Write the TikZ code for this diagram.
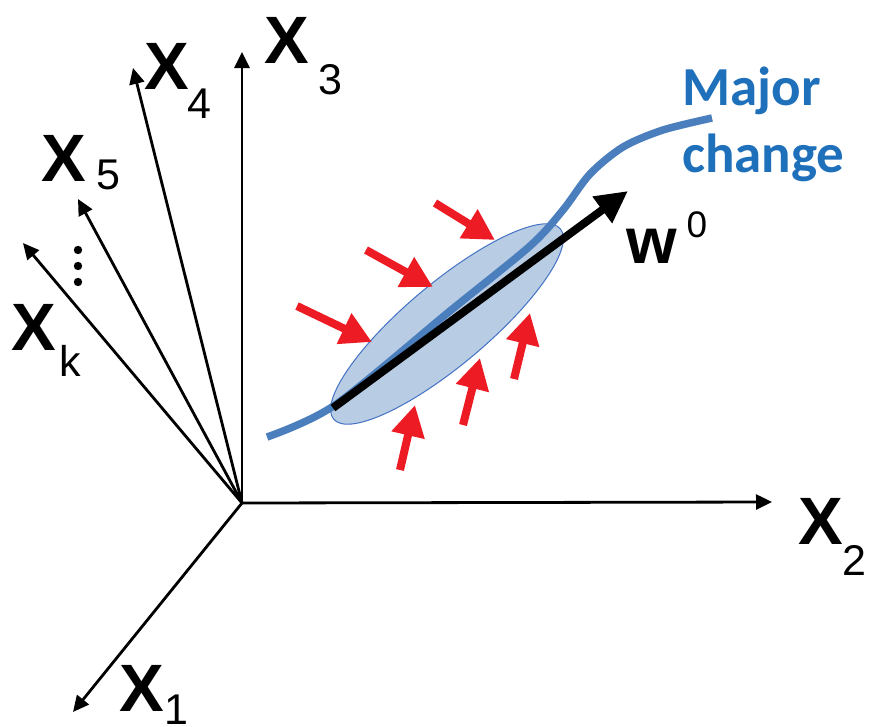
\documentclass[tikz,border=0pt]{standalone}
\usepackage{fontspec}
\setmainfont{Liberation Sans}
\newfontfamily\calib{Carlito}
\usetikzlibrary{arrows.meta,shapes.geometric}
\definecolor{redarr}{RGB}{237,28,36}
\definecolor{curveblue}{RGB}{74,126,188}
\definecolor{textblue}{RGB}{30,112,186}
\definecolor{ellfill}{RGB}{184,204,228}
\definecolor{elldraw}{RGB}{68,114,196}
\begin{document}
\begin{tikzpicture}[x=1pt,y=-1pt,
  axis/.style={line width=2.8pt,-{Triangle[length=16pt,width=15pt]}},
  bigX/.style={inner sep=0pt,font=\fontsize{67}{67}\selectfont\bfseries},
  subidx/.style={inner sep=0pt,font=\fontsize{43}{43}\selectfont},
  push/.style={redarr,line width=8pt,-{Triangle[length=31pt,width=32pt]}},
  curve/.style={curveblue,line width=7.5pt,line cap=butt,line join=round},
  blabel/.style={inner sep=0pt,anchor=base west,textblue,font=\fontsize{55}{55}\calib\bfseries}
]
\useasboundingbox (0,0) rectangle (873,726);
% axes
\coordinate (O) at (242,503);
\coordinate (t3) at (242,52);
\coordinate (t4) at (133,68);
\coordinate (t5) at (78,199);
\coordinate (tk) at (23,243);
\coordinate (t2) at (772,502);
\coordinate (t1) at (73,712);
\foreach \t in {t3,t4,t5,tk,t2,t1} \draw[axis] (O) -- (\t);
% axis labels
\node[bigX] (X3) at (287,40) {X};
\node[subidx] (s3) at (330,80) {3};
\node[bigX] (X4) at (167,66) {X};
\node[subidx] (s4) at (199,104) {4};
\node[bigX] (X5) at (64,158) {X};
\node[subidx] (s5) at (108,175) {5};
\node[bigX] (Xk) at (34,327) {X};
\node[subidx] (sk) at (70,361) {k};
\node[bigX] (X2) at (821,521) {X};
\node[subidx] (s2) at (854,560) {2};
\node[bigX] (X1) at (142,688) {X};
\node[subidx] (s1) at (176,710) {1};
% dots
\foreach \y in {250,266,282} \fill (78,\y) circle (4.2pt);
% ellipse
\node[ellipse,draw=elldraw,line width=1pt,fill=ellfill,minimum width=296pt,minimum height=82pt,inner sep=0pt,rotate=40] (ell) at (447,324) {};
% curve
\draw[curve] plot[smooth,tension=0.5] coordinates {(267,437) (335,405) (450,311) (530,246) (563,210) (590,174) (623,147) (663,130) (712,118)};
% principal direction
\coordinate (w0s) at (333,408);
\coordinate (w0e) at (628,191);
\draw[line width=8pt,-{Triangle[length=32pt,width=31pt]}] (w0s) -- (w0e);
\node[inner sep=0pt,font=\fontsize{65}{65}\selectfont\bfseries] (w) at (652,246) {w};
\node[inner sep=0pt,font=\fontsize{37}{37}\selectfont] (w0) at (697,225) {0};
% label
\node[blabel] (maj) at (682,105) {Major};
\node[blabel] (chg) at (682,172) {change};
% red arrows
\coordinate (a1s) at (435,203); \coordinate (a1e) at (495,240);
\coordinate (a2s) at (366,250); \coordinate (a2e) at (433,287);
\coordinate (a3s) at (297,306); \coordinate (a3e) at (372,342);
\coordinate (a4s) at (400,470); \coordinate (a4e) at (415,405);
\coordinate (a5s) at (463,425); \coordinate (a5e) at (480,358);
\coordinate (a6s) at (514,379); \coordinate (a6e) at (530,313);
\foreach \i in {1,...,6} \draw[push] (a\i s) -- (a\i e);
\end{tikzpicture}
\end{document}
